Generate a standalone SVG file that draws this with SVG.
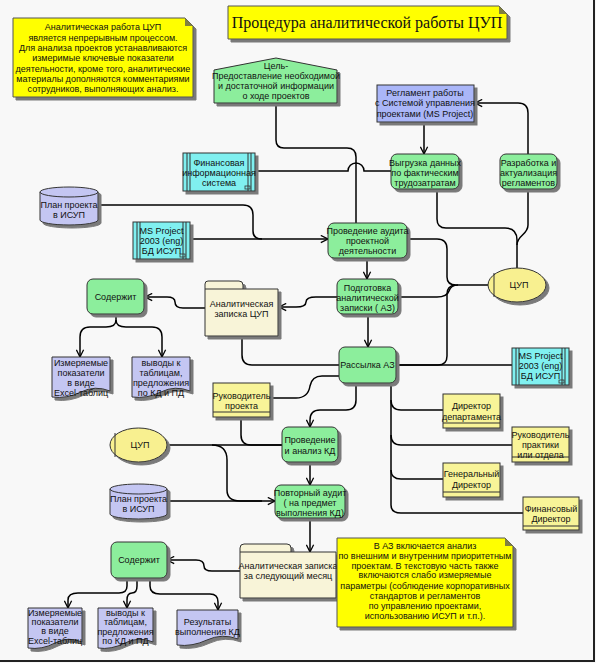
<svg xmlns="http://www.w3.org/2000/svg" width="596" height="663" viewBox="0 0 596 663">
<defs>
<filter id="sh" x="-10%" y="-10%" width="130%" height="130%"><feDropShadow dx="3" dy="3" stdDeviation="0.4" flood-color="#7a7a7a" flood-opacity="1"/></filter>
<marker id="ar" viewBox="0 0 10 10" refX="9" refY="5" markerWidth="9" markerHeight="9" markerUnits="userSpaceOnUse" orient="auto"><path d="M1,1 L9,5 L1,9" fill="none" stroke="#000" stroke-width="1.4"/></marker>
<style>
text{font-family:"Liberation Sans",Arial,sans-serif;font-size:9px;fill:#111;text-anchor:middle}
.t{font-family:"Liberation Serif","Times New Roman",serif;font-size:16px}
.g{fill:#8cee9c;stroke:#333;stroke-width:1;filter:url(#sh)}
.c{fill:#80f0f0;stroke:#333;stroke-width:1;filter:url(#sh)}
.v{fill:#c4c6f2;stroke:#333;stroke-width:1;filter:url(#sh)}
.b{fill:#aab6f8;stroke:#333;stroke-width:1;filter:url(#sh)}
.y{fill:#ffff00;stroke:#555;stroke-width:1;filter:url(#sh)}
.ly{fill:#f8f498;stroke:#333;stroke-width:1;filter:url(#sh)}
.e{fill:#f8f090;stroke:#333;stroke-width:1;filter:url(#sh)}
.f{fill:#f8f4d8;stroke:#333;stroke-width:1;filter:url(#sh)}
.ln{fill:none;stroke:#333;stroke-width:1}
.cn path{fill:none;stroke:#000;stroke-width:1.5}
.a{marker-end:url(#ar)}
</style>
</defs>
<rect x="0" y="0" width="596" height="663" fill="#f8f8f8"/>
<path d="M594,0 V661 H0" fill="none" stroke="#222" stroke-width="2"/>

<g class="cn" id="connectors">
<path d="M276,103 V140 Q276,148 284,148 H347 Q356,148 356,157 V223"/>
<path d="M255,171 H348 A8,8 0 0 1 364,171 H391"/>
<path d="M98,205 H243 Q253,205 253,215 V231 Q253,239 262,239"/>
<path class="a" d="M190,239 H328"/>
<path class="a" d="M424,122 V154"/>
<path class="a" d="M528,154 V113 Q528,103 518,103 H475"/>
<path d="M517,268 V240 Q517,228 505,228 H446 Q437,228 437,219 V189"/>
<path d="M517,245 C517,235 528,235 528,225 V189"/>
<path class="a" d="M367,258 V279"/>
<path class="a" d="M368,314 V347"/>
<path d="M407,239 H437 Q447,239 447,249 V277 Q447,285 456,285 H488"/>
<path d="M398,297 H437 Q447,297 449,291 Q451,285 458,285"/>
<path d="M396,365 H438 Q447,365 447,356 V294 Q447,286 455,285"/>
<path d="M396,365 H512"/>
<path class="a" d="M337,297 H316 Q306,297 306,302 Q306,307 296,307 H279"/>
<path d="M242,336 V355 Q242,365 252,365 H339"/>
<path class="a" d="M205,308 H183 Q175,308 175,302 Q175,297 167,297 H145"/>
<path class="a" d="M116,314 V320 Q116,327 106,327 H90 Q80,327 80,337 V357"/>
<path class="a" d="M116,320 Q116,327 126,327 H152 Q162,327 162,337 V357"/>
<path d="M339,376 H322 Q312,376 310,386 Q308,398 296,398 H270"/>
<path class="a" d="M356,383 V400 Q356,410 346,410 H320 Q310,410 310,420 V427"/>
<path d="M391,383 V400 Q391,410 401,410 H443"/>
<path d="M391,400 V505 Q391,513 401,513 H523"/>
<path d="M391,435 Q391,445 401,445 H512"/>
<path d="M391,470 Q391,479 401,479 H443"/>
<path d="M241,417 V435 Q241,445 251,445 H282"/>
<path d="M167,445 H282"/>
<path d="M212,445 Q227,445 227,460 V490 Q227,501 240,501 H262"/>
<path class="a" d="M167,501 H275"/>
<path class="a" d="M310,462 V485"/>
<path class="a" d="M310,518 V552"/>
<path class="a" d="M240,571 H212 Q204,571 204,566 Q204,560 196,560 H167"/>
<path class="a" d="M127,578 V586 Q127,593 119,593 H78 Q68,593 68,600 V608"/>
<path class="a" d="M137,578 V586 Q137,593 132,593 Q127,593 127,600 V608"/>
<path class="a" d="M150,578 V586 Q150,594 160,594 H210 Q218,594 218,602 V610"/>
</g>

<g id="note1">
<path class="y" d="M13,18 H185 L193,26 V97 H13 Z"/>
<path d="M185,18 L193,26 H185 Z" fill="#808040"/>
<text x="103" y="30">Аналитическая работа ЦУП</text>
<text x="103" y="40.5">является непрерывным процессом.</text>
<text x="103" y="51">Для анализа проектов устанавливаются</text>
<text x="103" y="61">измеримые ключевые показатели</text>
<text x="103" y="71.5">деятельности, кроме того, аналитические</text>
<text x="103" y="82">материалы дополняются комментариями</text>
<text x="103" y="92">сотрудников, выполняющих анализ.</text>
</g>

<g id="title">
<path class="y" d="M228,6 H499 L507,14 V39 H228 Z"/>
<path d="M499,6 L507,14 H499 Z" fill="#808040"/>
<text class="t" x="367" y="28">Процедура аналитической работы ЦУП</text>
</g>

<g id="goal">
<path class="g" d="M214,70 L276,58 L337,70 V103 H214 Z"/>
<text x="276" y="69">Цель-</text>
<text x="276" y="79">Предоставление необходимой</text>
<text x="276" y="89">и достаточной информации</text>
<text x="276" y="99">о ходе  проектов</text>
</g>

<g id="reglament">
<rect class="b" x="377" y="85" width="97" height="37"/>
<text x="425" y="96">Регламент работы</text>
<text x="425" y="106">с Системой управления</text>
<text x="425" y="117">проектами (MS Project)</text>
</g>

<g id="vygruzka">
<rect class="g" x="391" y="154" width="68" height="35" rx="6"/>
<text x="425" y="166">Выгрузка данных</text>
<text x="425" y="176">по фактическим</text>
<text x="425" y="186">трудозатратам</text>
</g>

<g id="razrabotka">
<rect class="g" x="500" y="154" width="57" height="35" rx="6"/>
<text x="528.5" y="166">Разработка и</text>
<text x="528.5" y="176">актуализация</text>
<text x="528.5" y="186">регламентов</text>
</g>

<g id="finis">
<rect class="c" x="183" y="153" width="72" height="38"/>
<path class="ln" d="M187,153 V191 M190,153 V191 M248,153 V191 M251,153 V191"/>
<rect x="245" y="186" width="5" height="3" fill="none" stroke="#333" stroke-width="0.8"/>
<text x="219" y="166">Финансовая</text>
<text x="219" y="176">информационная</text>
<text x="219" y="186">система</text>
</g>

<g id="plan1">
<path class="v" d="M40,192 A29,5 0 0 1 98,192 V220 A29,5 0 0 1 40,220 Z"/>
<path class="ln" d="M40,192 A29,5 0 0 0 98,192"/>
<text x="69" y="208">План проекта</text>
<text x="69" y="218">в ИСУП</text>
</g>

<g id="msp1">
<rect class="c" x="133" y="222" width="57" height="37"/>
<path class="ln" d="M137,222 V259 M140,222 V259 M183,222 V259 M186,222 V259"/>
<rect x="180" y="254" width="5" height="3" fill="none" stroke="#333" stroke-width="0.8"/>
<text x="161.5" y="234">MS Project</text>
<text x="161.5" y="244">2003 (eng)</text>
<text x="161.5" y="254">БД ИСУП</text>
</g>

<g id="audit">
<rect class="g" x="328" y="223" width="79" height="35" rx="6"/>
<text x="367.5" y="234">Проведение аудита</text>
<text x="367.5" y="244">проектной</text>
<text x="367.5" y="254">деятельности</text>
</g>

<g id="cup1">
<ellipse class="e" cx="517" cy="285" rx="29" ry="17"/>
<path class="ln" d="M494,273 V297"/>
<text x="519" y="288">ЦУП</text>
</g>

<g id="podgotovka">
<rect class="g" x="337" y="279" width="61" height="35" rx="6"/>
<text x="367.5" y="291">Подготовка</text>
<text x="367.5" y="301">аналитической</text>
<text x="367.5" y="311">записки ( АЗ)</text>
</g>

<g id="folder1">
<path class="f" d="M205,289 V284 Q205,281 208,281 H239 Q243,281 243,285 V289 H278 V336 H205 Z"/>
<path class="ln" d="M205,289 H243"/>
<text x="241.5" y="307">Аналитическая</text>
<text x="241.5" y="317">записка ЦУП</text>
</g>

<g id="soderzhit1">
<rect class="g" x="87" y="279" width="57" height="35" rx="6"/>
<text x="115.5" y="300">Содержит</text>
</g>

<g id="izm1">
<path class="v" d="M52,397 V357 H110 V391 Q95,385 81,392 T52,397 Z"/>
<text x="81" y="366">Измеряемые</text>
<text x="81" y="376">показатели</text>
<text x="81" y="386">в виде</text>
<text x="81" y="396">Excel-таблиц</text>
</g>

<g id="vyvody1">
<path class="v" d="M132,397 V357 H190 V391 Q175,385 161,392 T132,397 Z"/>
<text x="161" y="366">выводы к</text>
<text x="161" y="376">таблицам,</text>
<text x="161" y="386">предложения</text>
<text x="161" y="396">по КД  и ПД</text>
</g>

<g id="rassylka">
<rect class="g" x="339" y="347" width="57" height="36" rx="6"/>
<text x="367.5" y="368">Рассылка АЗ</text>
</g>

<g id="msp2">
<rect class="c" x="512" y="348" width="57" height="37"/>
<path class="ln" d="M516,348 V385 M519,348 V385 M562,348 V385 M565,348 V385"/>
<rect x="559" y="380" width="5" height="3" fill="none" stroke="#333" stroke-width="0.8"/>
<text x="540.5" y="359">MS Project</text>
<text x="540.5" y="369">2003 (eng)</text>
<text x="540.5" y="379">БД ИСУП</text>
</g>

<g id="dirdep">
<rect class="ly" x="443" y="394" width="57" height="34"/>
<path class="ln" d="M443,423 H500"/>
<text x="471.5" y="409">Директор</text>
<text x="471.5" y="420">департамента</text>
</g>

<g id="rukprak">
<rect class="ly" x="512" y="427" width="57" height="35"/>
<path class="ln" d="M512,457 H569"/>
<text x="540.5" y="438">Руководитель</text>
<text x="540.5" y="448">практики</text>
<text x="540.5" y="458">или отдела</text>
</g>

<g id="gendir">
<rect class="ly" x="443" y="463" width="57" height="34"/>
<path class="ln" d="M443,492 H500"/>
<text x="471.5" y="477">Генеральный</text>
<text x="471.5" y="488">Директор</text>
</g>

<g id="findir">
<rect class="ly" x="523" y="497" width="56" height="33"/>
<path class="ln" d="M523,526 H579"/>
<text x="551" y="512">Финансовый</text>
<text x="551" y="522">Директор</text>
</g>

<g id="rukproj">
<rect class="ly" x="213" y="383" width="57" height="34"/>
<path class="ln" d="M213,412 H270"/>
<text x="241.5" y="399">Руководитель</text>
<text x="241.5" y="409">проекта</text>
</g>

<g id="analizkd">
<rect class="g" x="282" y="427" width="56" height="35" rx="6"/>
<text x="310" y="443">Проведение</text>
<text x="310" y="454">и анализ  КД</text>
</g>

<g id="cup2">
<ellipse class="e" cx="138.5" cy="445" rx="28.5" ry="17"/>
<path class="ln" d="M115,433 V457"/>
<text x="140" y="448">ЦУП</text>
</g>

<g id="plan2">
<path class="v" d="M110,489 A28.5,5 0 0 1 167,489 V514 A28.5,5 0 0 1 110,514 Z"/>
<path class="ln" d="M110,489 A28.5,5 0 0 0 167,489"/>
<text x="138.5" y="502">План проекта</text>
<text x="138.5" y="512">в ИСУП</text>
</g>

<g id="povtor">
<rect class="g" x="275" y="485" width="70" height="33" rx="6"/>
<text x="310" y="496">Повторный аудит</text>
<text x="310" y="506">( на предмет</text>
<text x="310" y="516">выполнения КД)</text>
</g>

<g id="folder2">
<path class="f" d="M240,552 V548 Q240,544 244,544 H287 Q291,544 291,548 V552 H336 V598 H240 Z"/>
<path class="ln" d="M240,552 H291"/>
<text x="288" y="569">Аналитическая записка</text>
<text x="288" y="579">за следующий месяц</text>
</g>

<g id="soderzhit2">
<rect class="g" x="111" y="542" width="56" height="36" rx="6"/>
<text x="139" y="563">Содержит</text>
</g>

<g id="izm2">
<path class="v" d="M28,648 V608 H82 V642 Q68,636 55,643 T28,648 Z"/>
<text x="55" y="616">Измеряемые</text>
<text x="55" y="625">показатели</text>
<text x="55" y="634">в виде</text>
<text x="55" y="644">Excel-таблиц</text>
</g>

<g id="vyvody2">
<path class="v" d="M98,648 V608 H153 V642 Q139,636 125,643 T98,648 Z"/>
<text x="125.5" y="616">выводы к</text>
<text x="125.5" y="625">таблицам,</text>
<text x="125.5" y="635">предложения</text>
<text x="125.5" y="644">по КД  и ПД</text>
</g>

<g id="results">
<path class="v" d="M177,645 V610 H238 V639 Q222,633 207,640 T177,645 Z"/>
<text x="207.5" y="625">Результаты</text>
<text x="207.5" y="635">выполнения КД</text>
</g>

<g id="note2">
<path class="y" d="M337,538 H505 L513,546 V627 H337 Z"/>
<path d="M505,538 L513,546 H505 Z" fill="#808040"/>
<text x="425" y="549">В АЗ включается анализ</text>
<text x="425" y="559">по внешним и внутренним приоритетным</text>
<text x="425" y="569">проектам. В текстовую часть также</text>
<text x="425" y="578">включаются слабо измеряемые</text>
<text x="425" y="589">параметры (соблюдение корпоративных</text>
<text x="425" y="599">стандартов и регламентов</text>
<text x="425" y="609">по управлению проектами,</text>
<text x="425" y="619">использованию ИСУП и т.п.).</text>
</g>
</svg>
